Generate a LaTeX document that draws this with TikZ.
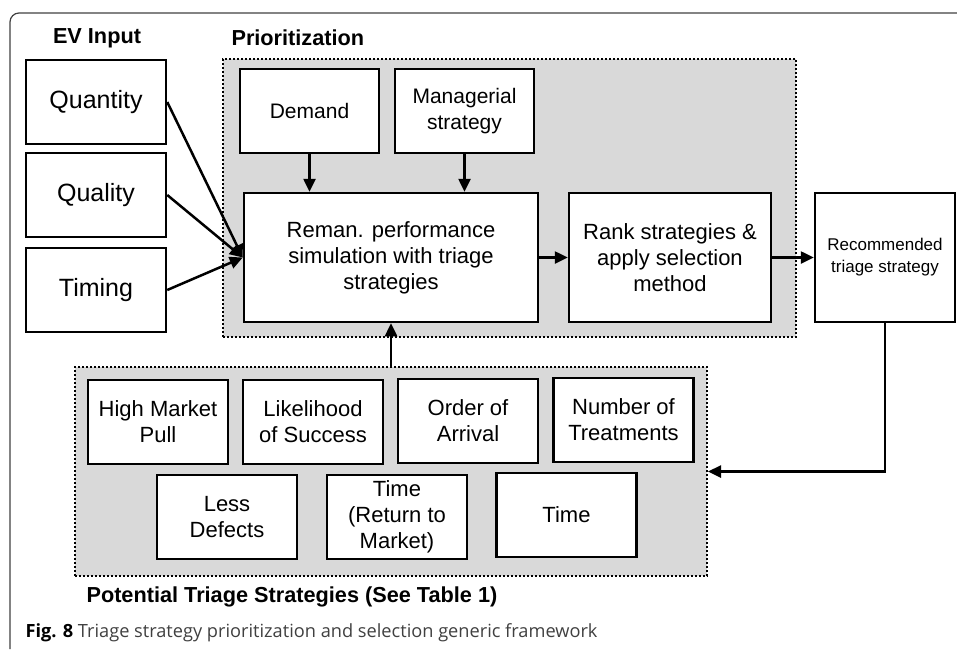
\documentclass[tikz,border=0pt]{standalone}
\usepackage{fontspec}
\setmainfont{Liberation Sans}
\newfontfamily\captionfont{Open Sans}
\usetikzlibrary{arrows.meta}

\tikzset{
    box/.style={rectangle, draw, line width=2.5pt, fill=white, align=center,
        minimum width=140pt, minimum height=84pt, inner sep=2pt,
        font=\fontsize{22}{26}\selectfont},
    group/.style={rectangle, draw, dotted, line width=2pt, fill=black!15},
    heading/.style={font=\bfseries\fontsize{21.7}{25}\selectfont},
    flow/.style={-{Triangle[length=13pt,width=12pt]}, line width=2.5pt},
}

\begin{document}
\begin{tikzpicture}[x=1pt, y=-1pt]
    \useasboundingbox (0,0) rectangle (957,649);
    % outer frame
    \draw [line width=1.2pt, black!75, rounded corners=9pt] (10,649) -- (10,13) -- (957,13);

    % headings
    \node (evtitle) [heading] at (97,38) {EV Input};
    \node (priotitle) [heading, anchor=west] at (228,38) {Prioritization};
    \node (strattitle) [heading, anchor=west] at (83,597) {Potential Triage Strategies (See Table 1)};

    % dotted groups
    \node (prio) [group, minimum width=573pt, minimum height=278pt] at (509.5,198) {};
    \node (strat) [group, minimum width=632pt, minimum height=209pt] at (391,471.5) {};

    % EV input
    \node (quantity) [box, font=\fontsize{25}{30}\selectfont] at (96,102) {Quantity};
    \node (quality) [box, font=\fontsize{25}{30}\selectfont] at (96,195) {Quality};
    \node (timing) [box, font=\fontsize{25}{30}\selectfont] at (96,290) {Timing};

    % prioritization
    \node (demand) [box, minimum width=139pt, font=\fontsize{21}{26}\selectfont] at (309.5,111) {Demand};
    \node (managerial) [box, minimum width=139pt, font=\fontsize{21}{26}\selectfont] at (464.5,111) {Managerial\\strategy};
    \node (reman) [box, minimum width=294pt, minimum height=129pt] at (391,257.5)
        {Reman. performance\\simulation with triage\\strategies};
    \node (rank) [box, minimum width=202pt, minimum height=129pt] at (670,257.5)
        {Rank strategies \&\\apply selection\\method};
    \node (recommended) [box, minimum height=129pt, font=\fontsize{17}{22}\selectfont] at (885,257.5)
        {Recommended\\triage strategy};

    % potential triage strategies
    \node (highpull) [box] at (158,422) {High Market\\Pull};
    \node (likelihood) [box] at (313,422) {Likelihood\\of Success};
    \node (arrival) [box] at (468,421) {Order of\\Arrival};
    \node (treatments) [box] at (623.5,420) {Number of\\Treatments};
    \node (defects) [box] at (227,517) {Less\\Defects};
    \node (returntime) [box] at (397,517) {Time\\(Return to\\Market)};
    \node (time) [box] at (566.5,515) {Time};

    % connectors
    \draw [flow] (quantity.east) -- (reman.west);
    \draw [flow] (quality.east) -- (reman.west);
    \draw [flow] (timing.east) -- (reman.west);
    \draw [flow] (demand) -- (demand |- reman.north);
    \draw [flow] (managerial) -- (managerial |- reman.north);
    \draw [flow] (reman) -- (rank);
    \draw [flow] (rank) -- (recommended);
    \draw [flow] (strat.north) -- (reman.south);
    \draw [flow] (recommended.south) |- (strat.east);

    % caption
    \node (caption) [anchor=west, font=\captionfont\fontsize{18.2}{22}\selectfont, text=black!75] at (22,633)
        {\textbf{\color{black}Fig. 8} Triage strategy prioritization and selection generic framework};
\end{tikzpicture}
\end{document}
